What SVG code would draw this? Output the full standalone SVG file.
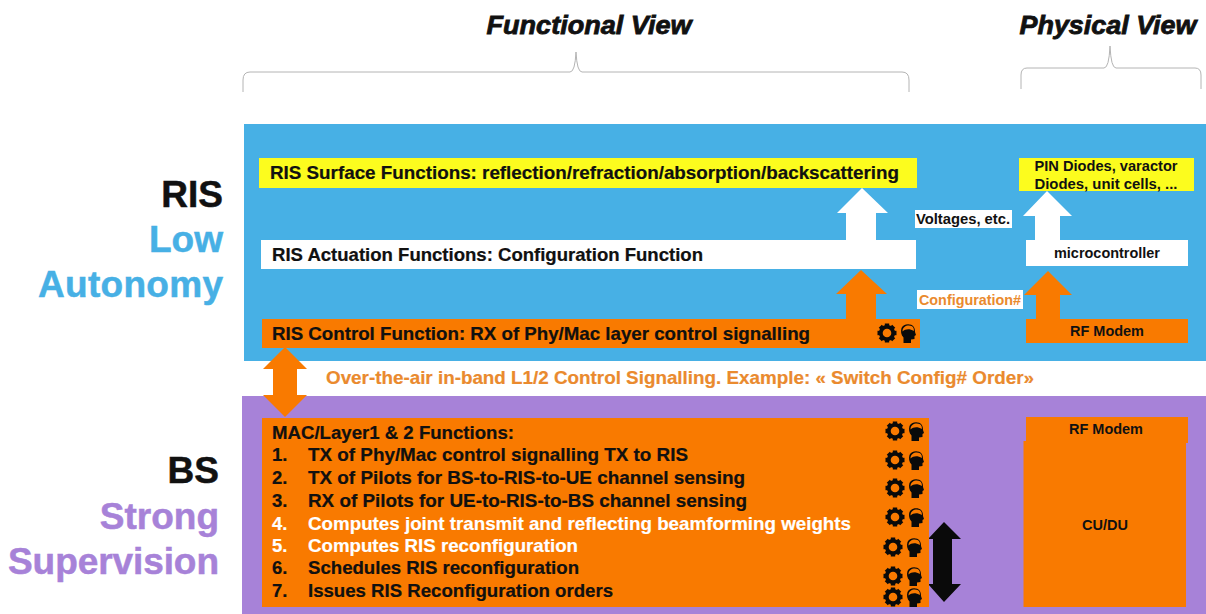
<svg xmlns="http://www.w3.org/2000/svg" width="1206" height="614" viewBox="0 0 1206 614">
<style>
text{font-family:"Liberation Sans",Arial,sans-serif;font-weight:700;fill:#111}
.big{font-size:37px;stroke-width:.5px}
.t{font-size:18.500px;stroke:currentColor;stroke-width:.2px}
.s{font-size:14px}
.view{font-size:25.500px;font-style:italic;stroke:#111;stroke-width:.8px}
.o{fill:#f97a00}
.w{fill:#fff}
.y{fill:#fcfc1e}
.brace{fill:none;stroke:#b4b4b4;stroke-width:1}
</style>
<defs>
<g id="gear"><circle r="6.3" fill="none" stroke="#0a0a0a" stroke-width="3.6"/><g fill="#0a0a0a"><rect x="-2.2" y="-9.500" width="4.400" height="19"/><rect x="-2.2" y="-9.500" width="4.400" height="19" transform="rotate(45)"/><rect x="-2.2" y="-9.500" width="4.400" height="19" transform="rotate(90)"/><rect x="-2.2" y="-9.500" width="4.400" height="19" transform="rotate(135)"/></g><circle r="4.300" fill="#f97a00"/></g>
<g id="head"><path d="M-4.500 10V4.500C-7 2-7.500-2-6.500-5C-5-9.500 3-10 5.500-6.500C7-4.500 7-2.500 7-1L8 2L6.500 3V6L3 6.500V10Z" fill="#0a0a0a"/><path d="M-5.500-1.500C-5.500-7 0-8.500 3.500-7C6-5.800 6-3.500 5.800-2C2-4.500-2.500-4.500-5.500-1.500Z" fill="#f97a00"/></g>
</defs>
<g id="bands">
<rect x="244" y="124" width="962" height="237" fill="#47b0e5"/>
<rect x="242" y="396" width="964" height="218" fill="#a782d8"/>
</g>
<g id="braces">
<path class="brace" d="M243 92V80Q243 72 250 72H570Q575 72 576 52Q577 72 582 72H902Q909 72 909 80V92"/>
<path class="brace" d="M1021 89V75Q1021 68 1027 68H1104Q1109 68 1110 46Q1111 68 1116 68H1195Q1201 68 1201 75V89"/>
</g>
<g id="connectors">
<path class="w" d="M862 188L888 213H876V241H846V213H837Z"/>
<path class="w" d="M1047 191L1072 216H1060V241H1035V216H1023Z"/>
<path class="o" d="M861 270L887 294H876V320H846V294H836Z"/>
<path class="o" d="M1048 271L1072 295H1060V320H1036V295H1024Z"/>
<path class="o" d="M285 347L307 369H297V395H307L285 417L263 395H273V369H263Z"/>
<path fill="#0a0a0a" d="M944 522L961 539H952V584H961L944 602L928 584H933V539H928Z"/>
</g>
<g id="titles">
<text class="view" x="589" y="34" text-anchor="middle" textLength="205" lengthAdjust="spacingAndGlyphs">Functional View</text>
<text class="view" x="1108" y="34" text-anchor="middle" textLength="177" lengthAdjust="spacingAndGlyphs">Physical View</text>
</g>
<g id="ris-label">
<text class="big" x="223" y="207" text-anchor="end" style="stroke:#111">RIS</text>
<text class="big" x="223" y="252" text-anchor="end" style="fill:#47b0e5;stroke:#47b0e5">Low</text>
<text class="big" x="223" y="297" text-anchor="end" textLength="185" style="fill:#47b0e5;stroke:#47b0e5">Autonomy</text>
</g>
<g id="bs-label">
<text class="big" x="219" y="483" text-anchor="end" style="stroke:#111">BS</text>
<text class="big" x="219" y="529" text-anchor="end" style="fill:#a782d8;stroke:#a782d8">Strong</text>
<text class="big" x="219" y="574" text-anchor="end" textLength="211" style="fill:#a782d8;stroke:#a782d8">Supervision</text>
</g>
<g id="ris-surface"><rect class="y" x="259" y="158" width="658" height="30"/>
<text class="t" x="270" y="179" textLength="629" lengthAdjust="spacingAndGlyphs">RIS Surface Functions: reflection/refraction/absorption/backscattering</text></g>
<g id="pin-diodes"><rect class="y" x="1019" y="158" width="175" height="33"/>
<text class="s" x="1106" y="171" text-anchor="middle" textLength="143" lengthAdjust="spacingAndGlyphs">PIN Diodes, varactor</text>
<text class="s" x="1106" y="189" text-anchor="middle" textLength="143" lengthAdjust="spacingAndGlyphs">Diodes, unit cells, ...</text></g>
<g id="ris-actuation"><rect class="w" x="261" y="240" width="655" height="29"/>
<text class="t" x="272" y="261" textLength="431" lengthAdjust="spacingAndGlyphs">RIS Actuation Functions: Configuration Function</text></g>
<g id="microcontroller"><rect class="w" x="1026" y="240" width="162" height="26"/>
<text class="s" x="1107" y="258" text-anchor="middle" textLength="106" lengthAdjust="spacingAndGlyphs">microcontroller</text></g>
<g id="voltages"><rect class="w" x="915" y="210" width="97" height="18"/>
<text class="s" x="963" y="224" text-anchor="middle" textLength="94" lengthAdjust="spacingAndGlyphs">Voltages, etc.</text></g>
<g id="configuration"><rect class="w" x="917" y="290" width="106" height="19"/>
<text class="s" x="970" y="305" text-anchor="middle" textLength="102" lengthAdjust="spacingAndGlyphs" style="fill:#ea8a2e">Configuration#</text></g>
<g id="ris-control"><rect class="o" x="262" y="319" width="658" height="29"/>
<text class="t" x="272" y="340" textLength="538" lengthAdjust="spacingAndGlyphs">RIS Control Function: RX of Phy/Mac layer control signalling</text>
<use href="#gear" x="887" y="333"/><use href="#head" x="908" y="333"/></g>
<g id="rf-modem-ris"><rect class="o" x="1026" y="319" width="162" height="24"/>
<text class="s" x="1107" y="336" text-anchor="middle" textLength="74" lengthAdjust="spacingAndGlyphs">RF Modem</text></g>
<g id="ota"><text class="t" x="326" y="384" textLength="708" lengthAdjust="spacingAndGlyphs" style="fill:#ea8a2e;color:#ea8a2e">Over-the-air in-band L1/2 Control Signalling. Example: « Switch Config# Order»</text></g>
<g id="bs-functions"><rect class="o" x="262" y="418" width="667" height="189"/>
<text class="t" x="272" y="439" textLength="242" lengthAdjust="spacingAndGlyphs">MAC/Layer1 &amp; 2 Functions:</text>
<text class="t" x="272" y="461">1.</text><text class="t" x="308" y="461" textLength="380" lengthAdjust="spacingAndGlyphs">TX of Phy/Mac control signalling TX to RIS</text>
<text class="t" x="272" y="484">2.</text><text class="t" x="308" y="484" textLength="437" lengthAdjust="spacingAndGlyphs">TX of Pilots for BS-to-RIS-to-UE  channel sensing</text>
<text class="t" x="272" y="507">3.</text><text class="t" x="308" y="507" textLength="439" lengthAdjust="spacingAndGlyphs">RX of Pilots for UE-to-RIS-to-BS channel sensing</text>
<text class="t" x="272" y="530" style="fill:#fff;color:#fff">4.</text><text class="t" x="308" y="530" textLength="543" lengthAdjust="spacingAndGlyphs" style="fill:#fff;color:#fff">Computes joint transmit and reflecting beamforming weights</text>
<text class="t" x="272" y="552" style="fill:#fff;color:#fff">5.</text><text class="t" x="308" y="552" textLength="270" lengthAdjust="spacingAndGlyphs" style="fill:#fff;color:#fff">Computes RIS reconfiguration</text>
<text class="t" x="272" y="574">6.</text><text class="t" x="308" y="574" textLength="271" lengthAdjust="spacingAndGlyphs">Schedules RIS reconfiguration</text>
<text class="t" x="272" y="597">7.</text><text class="t" x="308" y="597" textLength="305" lengthAdjust="spacingAndGlyphs">Issues RIS Reconfiguration orders</text>
<use href="#gear" x="895" y="431"/><use href="#head" x="916" y="431"/>
<use href="#gear" x="895" y="460"/><use href="#head" x="916" y="460"/>
<use href="#gear" x="895" y="488"/><use href="#head" x="916" y="488"/>
<use href="#gear" x="895" y="517"/><use href="#head" x="916" y="517"/>
<use href="#gear" x="893" y="547"/><use href="#head" x="914" y="547"/>
<use href="#gear" x="893" y="576"/><use href="#head" x="914" y="576"/>
<use href="#gear" x="893" y="597"/><use href="#head" x="914" y="597"/></g>
<g id="bs-physical"><rect class="o" x="1026" y="417" width="162" height="26"/><rect class="o" x="1023.500" y="441" width="162.500" height="166"/>
<text class="s" x="1106" y="434" text-anchor="middle" textLength="74" lengthAdjust="spacingAndGlyphs">RF Modem</text>
<text class="s" x="1105" y="530" text-anchor="middle" textLength="46" lengthAdjust="spacingAndGlyphs">CU/DU</text></g>
</svg>
